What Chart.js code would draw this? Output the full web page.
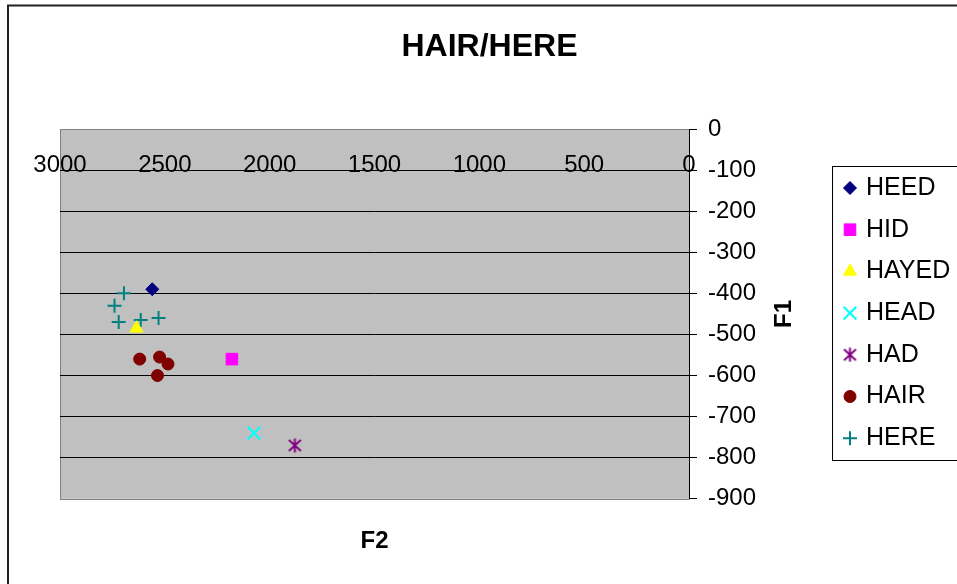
<!DOCTYPE html>
<html>
<head>
<meta charset="utf-8">
<title>HAIR/HERE</title>
<script src="https://cdn.jsdelivr.net/npm/chart.js@4.4.0/dist/chart.umd.min.js"></script>
<style>
  html, body { margin: 0; padding: 0; background: #fff; }
  #myChart { display: block; }
</style>
</head>
<body>
<canvas id="myChart" width="957" height="584"></canvas>
<script>
var seriesNames = ['HEED', 'HID', 'HAYED', 'HEAD', 'HAD', 'HAIR', 'HERE'];

// F2 goes on x, F1 on y (negative, so high vowels sit on top)
var heedF2 = [2560];
var heedF1 = [-390];
var hidF2 = [2180];
var hidF1 = [-560];
var hayedF2 = [2635];
var hayedF1 = [-485];
var headF2 = [2075];
var headF1 = [-740];
var hadF2 = [1880];
var hadF1 = [-770];
var hairF2 = [2620, 2525, 2485, 2535];
var hairF1 = [-560, -555, -572, -600];
var hereF2 = [2695, 2740, 2720, 2615, 2530];
var hereF1 = [-400, -430, -470, -465, -460];

var xTicks = [3000, 2500, 2000, 1500, 1000, 500, 0];
var yTicks = [0, -100, -200, -300, -400, -500, -600, -700, -800, -900];

Chart.defaults.font.family = '"Liberation Sans", Arial, sans-serif';
Chart.defaults.color = '#000';

// excel style asterisk (vertical bar + x, no horizontal)
function makeAsterisk(color) {
    var c = document.createElement('canvas');
    c.width = 15;
    c.height = 15;
    var g = c.getContext('2d');
    g.strokeStyle = color;
    g.lineWidth = 2;
    g.beginPath();
    g.moveTo(7.5, 0.5); g.lineTo(7.5, 14.5);
    g.moveTo(1.5, 2); g.lineTo(13.5, 13);
    g.moveTo(13.5, 2); g.lineTo(1.5, 13);
    g.stroke();
    return c;
}

var markers = {
    HEED:  { color: '#000080', style: 'rectRot', radius: 6.5, border: 1 },
    HID:   { color: '#ff00ff', style: 'rect', radius: 8.2, border: 1 },
    HAYED: { color: '#ffff00', style: 'triangle', radius: 7.5, border: 1 },
    HEAD:  { color: '#00ffff', style: 'crossRot', radius: 9, border: 2 },
    HAD:   { color: '#800080', style: makeAsterisk('#800080'), radius: 7, border: 2 },
    HAIR:  { color: '#800000', style: 'circle', radius: 6, border: 1 },
    HERE:  { color: '#008080', style: 'cross', radius: 7, border: 2 }
};

function toPoints(xs, ys) {
    return xs.map(function(x, i) { return { x: x, y: ys[i] }; });
}

var seriesData = [
    toPoints(heedF2, heedF1),
    toPoints(hidF2, hidF1),
    toPoints(hayedF2, hayedF1),
    toPoints(headF2, headF1),
    toPoints(hadF2, hadF1),
    toPoints(hairF2, hairF1),
    toPoints(hereF2, hereF1)
];

var datasets = seriesNames.map(function(name, i) {
    var m = markers[name];
    return {
        label: name,
        data: seriesData[i],
        pointStyle: m.style,
        pointRadius: m.radius,
        pointHoverRadius: m.radius,
        pointBackgroundColor: m.color,
        pointBorderColor: m.color,
        pointBorderWidth: m.border,
        showLine: false
    };
});

var framePlugin = {
    id: 'frame',
    beforeDraw: function(chart) {
        var c = chart.ctx;
        var a = chart.chartArea;
        c.save();
        c.fillStyle = '#fff';
        c.fillRect(0, 0, chart.width, chart.height);
        // outer chart border
        c.strokeStyle = '#222';
        c.lineWidth = 2;
        c.strokeRect(8, 5.5, 1200, 1200);
        // plot area
        c.fillStyle = '#c0c0c0';
        c.fillRect(a.left, a.top, a.right - a.left, a.bottom - a.top);
        c.strokeStyle = '#808080';
        c.lineWidth = 1;
        c.strokeRect(Math.round(a.left) + 0.5, Math.round(a.top) + 0.5,
            Math.round(a.right - a.left), Math.round(a.bottom - a.top));
        c.restore();
    },
    afterDraw: function(chart) {
        var c = chart.ctx;
        var a = chart.chartArea;
        c.save();
        // F1 axis title, reading bottom to top
        c.translate(784, (a.top + a.bottom) / 2);
        c.rotate(-Math.PI / 2);
        c.font = 'bold 24px "Liberation Sans", Arial, sans-serif';
        c.fillStyle = '#000';
        c.textAlign = 'center';
        c.textBaseline = 'middle';
        c.fillText('F1', 0, 0);
        c.restore();

        // legend box
        c.save();
        c.strokeStyle = '#000';
        c.lineWidth = 1;
        c.strokeRect(832.5, 166.5, 200, 294);
        c.font = '25px "Liberation Sans", Arial, sans-serif';
        c.textBaseline = 'middle';
        c.textAlign = 'left';
        chart.data.datasets.forEach(function(ds, i) {
            var y = 188 + i * 41.7;
            c.fillStyle = ds.pointBackgroundColor;
            c.strokeStyle = ds.pointBorderColor;
            c.lineWidth = ds.pointBorderWidth;
            Chart.helpers.drawPoint(c, {
                pointStyle: ds.pointStyle,
                radius: ds.pointRadius,
                borderWidth: ds.pointBorderWidth,
                rotation: 0
            }, 850, y);
            c.fillStyle = '#000';
            c.fillText(ds.label, 866, y);
        });
        c.restore();
    }
};

var ctx = document.getElementById('myChart');
var myChart = new Chart(ctx, {
    type: 'scatter',
    data: { datasets: datasets },
    plugins: [framePlugin],
    options: {
        responsive: false,
        animation: false,
        events: [],
        layout: { padding: { left: 22, right: 0, top: 0, bottom: 28 } },
        plugins: {
            legend: { display: false },
            tooltip: { enabled: false },
            title: {
                display: true,
                text: 'HAIR/HERE',
                color: '#000',
                font: { size: 32, weight: 'bold' },
                padding: { top: 28, bottom: 62.6 }
            }
        },
        scales: {
            x: {
                type: 'linear',
                position: { y: -100 },
                reverse: true,
                min: 0,
                max: 3000,
                afterBuildTicks: function(s) {
                    s.ticks = xTicks.map(function(v) { return { value: v }; });
                },
                ticks: {
                    font: { size: 24 },
                    padding: -19,
                    maxRotation: 0,
                    autoSkip: false,
                    callback: function(v) { return String(v); }
                },
                grid: { display: false, drawTicks: false },
                border: { display: true, color: '#000', width: 1 }
            },
            x2: {
                type: 'linear',
                axis: 'x',
                position: 'bottom',
                min: 0,
                max: 3000,
                ticks: { display: false },
                grid: { display: false, drawTicks: false },
                border: { display: false },
                title: {
                    display: true,
                    text: 'F2',
                    color: '#000',
                    font: { size: 24, weight: 'bold' },
                    padding: { top: 28.4, bottom: 0 }
                }
            },
            y: {
                type: 'linear',
                position: 'right',
                min: -900,
                max: 0,
                afterBuildTicks: function(s) {
                    s.ticks = yTicks.map(function(v) { return { value: v }; });
                },
                afterFit: function(s) { s.width = 268; },
                ticks: {
                    font: { size: 24 },
                    padding: 11,
                    callback: function(v) { return String(v); }
                },
                grid: {
                    color: function(c) {
                        if (c.tick && (c.tick.value === 0 || c.tick.value === -900)) return 'rgba(0,0,0,0)';
                        return '#000';
                    },
                    tickColor: '#000',
                    tickLength: 8,
                    lineWidth: 1
                },
                border: { display: true, color: '#000', width: 1 }
            },
            yl: {
                type: 'linear',
                axis: 'y',
                position: 'left',
                min: -900,
                max: 0,
                ticks: { display: false },
                grid: { display: false, drawTicks: false },
                border: { display: false },
                afterFit: function(s) { s.width = 38; }
            }
        }
    }
});
</script>
</body>
</html>
